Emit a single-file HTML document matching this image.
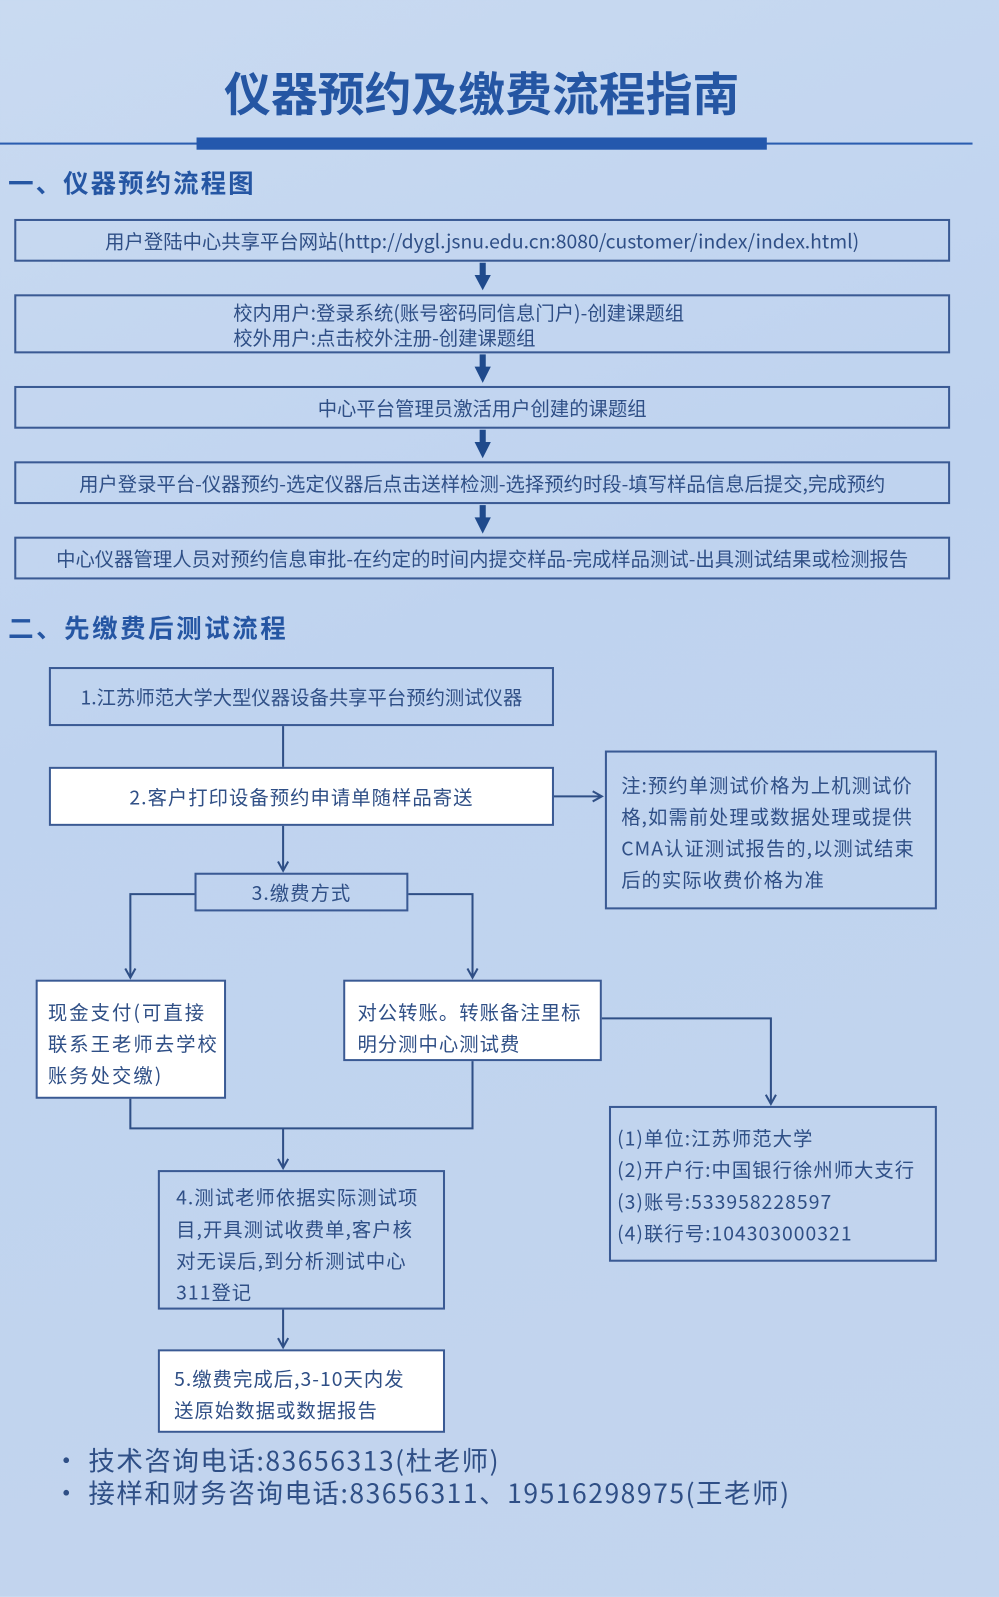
<!DOCTYPE html>
<html><head><meta charset="utf-8">
<style>
html,body{margin:0;padding:0;}
body{width:999px;height:1596px;overflow:hidden;background:linear-gradient(160deg,#c9daf1 0%,#bfd3ef 40%,#c3d5ee 100%);font-family:"Noto Sans CJK SC","Liberation Sans",sans-serif;}
#w{position:absolute;left:0;top:0;width:981px;height:1568px;transform:scale(1.01835);transform-origin:0 0;}
.b{position:absolute;border:2px solid #3a5a94;box-sizing:border-box;color:#2f4f86;font-size:19px;white-space:nowrap;}
.c{display:flex;align-items:center;justify-content:center;text-align:center;}
.w{background:#fff;}
.s{letter-spacing:1px;}
.t{position:absolute;color:#2556a3;font-weight:bold;white-space:nowrap;}
.p{position:absolute;color:#2f4f86;white-space:nowrap;}
</style></head><body><div id="w">
<div class="t" style="left:0;width:946px;top:58px;text-align:center;font-size:46px;line-height:64px;">仪器预约及缴费流程指南</div>
<div style="position:absolute;left:0;top:140px;width:955px;height:2px;background:#2a5db0"></div>
<div style="position:absolute;left:193px;top:135px;width:560px;height:12px;background:#2458ad"></div>
<div class="t" style="left:8px;top:162px;font-size:25px;line-height:34px;letter-spacing:2px;">一、仪器预约流程图</div>
<div class="b c" style="left:14px;top:215px;width:919px;height:42px;font-size:19px;">用户登陆中心共享平台网站(http://dygl.jsnu.edu.cn:8080/customer/index/index.html)</div>
<div class="b" style="left:14px;top:289px;width:919px;height:58px;line-height:25px;padding:3px 0 0 213px;">校内用户:登录系统(账号密码同信息门户)-创建课题组<br>校外用户:点击校外注册-创建课题组</div>
<div class="b c" style="left:14px;top:379px;width:919px;height:42px;">中心平台管理员激活用户创建的课题组</div>
<div class="b c" style="left:14px;top:453px;width:919px;height:42px;">用户登录平台-仪器预约-选定仪器后点击送样检测-选择预约时段-填写样品信息后提交,完成预约</div>
<div class="b c" style="left:14px;top:527px;width:919px;height:42px;font-size:19px;">中心仪器管理人员对预约信息审批-在约定的时间内提交样品-完成样品测试-出具测试结果或检测报告</div>
<div class="t" style="left:8px;top:599px;font-size:25px;line-height:34px;letter-spacing:2.5px;">二、先缴费后测试流程</div>

<div class="b c" style="left:48px;top:655px;width:496px;height:58px;">1.江苏师范大学大型仪器设备共享平台预约测试仪器</div>
<div class="b c w s" style="left:48px;top:753px;width:496px;height:58px;">2.客户打印设备预约申请单随样品寄送</div>
<div class="b s" style="left:594px;top:737px;width:326px;height:156px;padding:16px 0 0 14px;line-height:31px;">注:预约单测试价格为上机测试价<br>格,如需前处理或数据处理或提供<br>CMA认证测试报告的,以测试结束<br>后的实际收费价格为准</div>
<div class="b c s" style="left:191px;top:857px;width:210px;height:38px;">3.缴费方式</div>
<div class="b w" style="left:35px;top:962px;width:187px;height:117px;padding:14px 0 0 10px;line-height:31px;letter-spacing:2px;">现金支付(可直接<br>联系王老师去学校<br>账务处交缴)</div>
<div class="b w s" style="left:337px;top:962px;width:254px;height:80px;padding:14px 0 0 12px;line-height:31px;">对公转账。转账备注里标<br>明分测中心测试费</div>
<div class="b s" style="left:598px;top:1086px;width:322px;height:153px;padding:14px 0 0 6px;line-height:31px;">(1)单位:江苏师范大学<br>(2)开户行:中国银行徐州师大支行<br>(3)账号:533958228597<br>(4)联行号:104303000321</div>
<div class="b s" style="left:155px;top:1149px;width:282px;height:137px;padding:9px 0 0 16px;line-height:31px;">4.测试老师依据实际测试项<br>目,开具测试收费单,客户核<br>对无误后,到分析测试中心<br>311登记</div>
<div class="b w s" style="left:155px;top:1325px;width:282px;height:82px;padding:11px 0 0 14px;line-height:31px;">5.缴费完成后,3-10天内发<br>送原始数据或数据报告</div>
<div class="p" style="left:52px;top:1418px;font-size:26px;line-height:32px;letter-spacing:1.5px;">• 技术咨询电话:83656313(杜老师)<br>• 接样和财务咨询电话:83656311、19516298975(王老师)</div>

<svg style="position:absolute;left:0;top:0" width="981" height="1568">
<defs><marker id="a" markerWidth="12" markerHeight="12" refX="10" refY="6" orient="auto" markerUnits="userSpaceOnUse"><path d="M1,1 L10,6 L1,11" fill="none" stroke="#2f4f86" stroke-width="2"/></marker></defs>
<g fill="#1f4a8c">
<rect x="471" y="258" width="6" height="14"/><path d="M466,270 L482,270 L474,285Z"/>
<rect x="471" y="348" width="6" height="14"/><path d="M466,360 L482,360 L474,376Z"/>
<rect x="471" y="422" width="6" height="14"/><path d="M466,434 L482,434 L474,450Z"/>
<rect x="471" y="496" width="6" height="14"/><path d="M466,508 L482,508 L474,524Z"/>
</g>
<g fill="none" stroke="#2f4f86" stroke-width="2">
<path d="M278,713 V753"/>
<path d="M544,782 H591" marker-end="url(#a)"/>
<path d="M278,811 V855" marker-end="url(#a)"/>
<path d="M191,878 H128 V960" marker-end="url(#a)"/>
<path d="M401,878 H464 V960" marker-end="url(#a)"/>
<path d="M591,1000 H757 V1084" marker-end="url(#a)"/>
<path d="M128,1079 V1108 H464 V1042"/>
<path d="M278,1108 V1147" marker-end="url(#a)"/>
<path d="M278,1286 V1323" marker-end="url(#a)"/>
</g>
</svg>
</div></body></html>
